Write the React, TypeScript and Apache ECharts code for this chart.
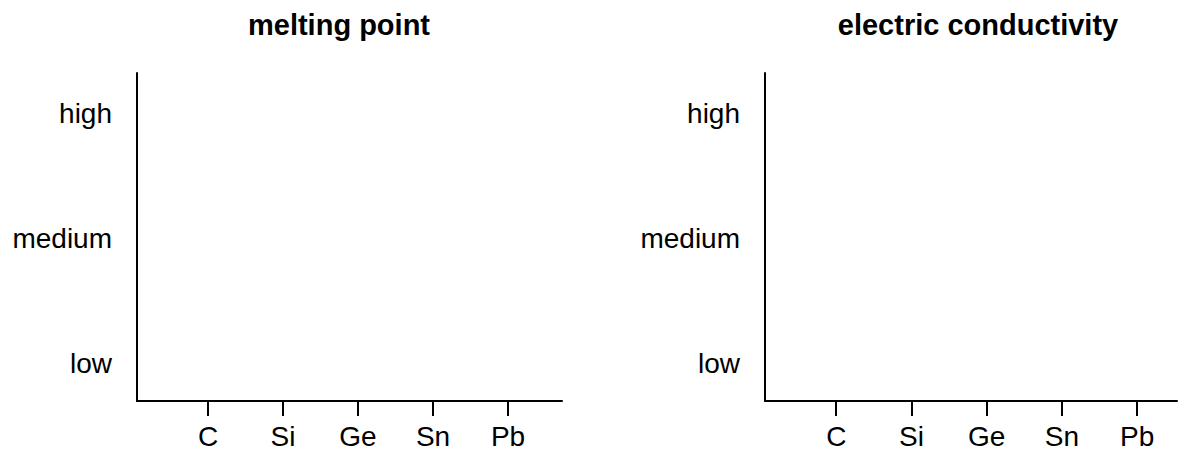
import React, { useEffect, useRef } from "react";
import * as echarts from "echarts";

const elements = ["C", "Si", "Ge", "Sn", "Pb"];
const levels = ["low", "medium", "high"];
const meltingPoint: [number, number][] = [];
const electricConductivity: [number, number][] = [];
const panelTitles = ["melting point", "electric conductivity"];

const FONT = "'Liberation Sans', Arial, Helvetica, sans-serif";

export default function App() {
  const ref = useRef<HTMLDivElement>(null);
  useEffect(() => {
    if (!ref.current) return;
    const chart = echarts.init(ref.current, null, { renderer: "svg" });
    const xIdx = elements.map((_, i) => i);
    const yIdx = levels.map((_, i) => i);
    const xAxisBase = (max: number, gridIndex: number) => ({
      type: "value" as const,
      gridIndex,
      min: -0.947,
      max,
      splitLine: { show: false },
      axisLine: { show: true, onZero: false, lineStyle: { color: "#000", width: 2 } },
      axisTick: { show: true, length: 15, lineStyle: { color: "#000", width: 2 }, customValues: xIdx },
      axisLabel: {
        customValues: xIdx,
        margin: 21,
        fontSize: 28,
        color: "#000",
        fontFamily: FONT,
        formatter: (v: number) => elements[Math.round(v)] ?? "",
      },
    });
    const yAxisBase = (gridIndex: number) => ({
      type: "value" as const,
      gridIndex,
      min: -0.3,
      max: 2.32,
      splitLine: { show: false },
      axisLine: { show: true, onZero: false, lineStyle: { color: "#000", width: 2 } },
      axisTick: { show: false },
      axisLabel: {
        customValues: yIdx,
        margin: 25,
        fontSize: 28,
        color: "#000",
        fontFamily: FONT,
        formatter: (v: number) => levels[Math.round(v)] ?? "",
      },
    });
    chart.setOption({
      animation: false,
      backgroundColor: "#fff",
      grid: [
        { left: 137, top: 73, width: 425, bottom: 49 },
        { left: 765, top: 73, width: 412, bottom: 49 },
      ],
      xAxis: [xAxisBase(4.72, 0), xAxisBase(4.53, 1)],
      yAxis: [yAxisBase(0), yAxisBase(1)],
      graphic: [
        {
          type: "text",
          x: 339,
          y: 25,
          style: {
            text: panelTitles[0],
            font: `bold 29px ${FONT}`,
            fill: "#000",
            align: "center",
            verticalAlign: "middle",
            textAlign: "center",
            textVerticalAlign: "middle",
          },
        },
        {
          type: "text",
          x: 978,
          y: 25,
          style: {
            text: panelTitles[1],
            font: `bold 29px ${FONT}`,
            fill: "#000",
            align: "center",
            verticalAlign: "middle",
            textAlign: "center",
            textVerticalAlign: "middle",
          },
        },
      ],
      series: [
        { type: "scatter", xAxisIndex: 0, yAxisIndex: 0, data: meltingPoint },
        { type: "scatter", xAxisIndex: 1, yAxisIndex: 1, data: electricConductivity },
      ],
    });
    return () => chart.dispose();
  }, []);
  return (
    <div
      ref={ref}
      style={{ position: "absolute", left: 0, top: 0, width: 1179, height: 450, background: "#fff" }}
    />
  );
}
